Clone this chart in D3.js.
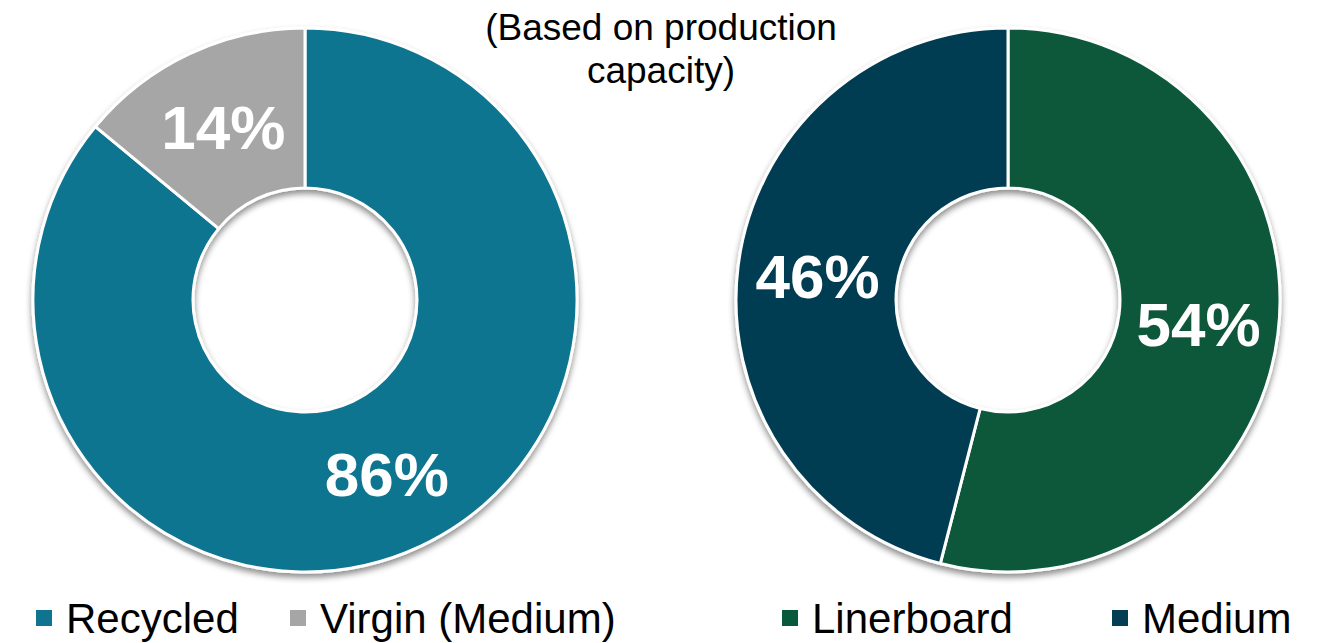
<!DOCTYPE html>
<html>
<head>
<meta charset="utf-8">
<script src="https://cdn.jsdelivr.net/npm/d3@7/dist/d3.min.js"></script>
<style>
  html, body { margin: 0; padding: 0; background: #ffffff; }
  svg { display: block; font-family: "Liberation Sans", Arial, sans-serif; }
</style>
</head>
<body>
<svg id="chart" width="1327" height="643"></svg>
<script>
// Paper grade mix by fibre source and by grade
const fibreCategories = ["Recycled", "Virgin (Medium)"];
const fibreShares = [86, 14];
const fibreColors = ["#0f7490", "#a6a6a6"];

const gradeCategories = ["Linerboard", "Medium"];
const gradeShares = [54, 46];
const gradeColors = ["#08593b", "#033e52"];

const titleLines = ["(Based on production", "capacity)"];

const svg = d3.select("#chart");
const defs = svg.append("defs");
const shadow = defs.append("filter")
  .attr("id", "ringShadow")
  .attr("x", "-20%").attr("y", "-20%")
  .attr("width", "140%").attr("height", "140%");
shadow.append("feDropShadow")
  .attr("dx", 0).attr("dy", 4)
  .attr("stdDeviation", 3)
  .attr("flood-color", "#000")
  .attr("flood-opacity", 0.45);

const outerR = 272, innerR = 112;
const pie = d3.pie().sort(null).value(d => d.value);
const arc = d3.arc().innerRadius(innerR).outerRadius(outerR);

function donut(cx, cy, cats, vals, colors) {
  const data = cats.map((c, i) => ({ name: c, value: vals[i], color: colors[i] }));
  const g = svg.append("g").attr("transform", `translate(${cx},${cy})`);
  const arcs = pie(data);
  g.append("g")
    .attr("filter", "url(#ringShadow)")
    .selectAll("path")
    .data(arcs)
    .join("path")
      .attr("d", arc)
      .attr("fill", d => d.data.color)
      .attr("stroke", "#ffffff")
      .attr("stroke-width", 3)
      .attr("stroke-linejoin", "round");
  g.selectAll("text.pct")
    .data(arcs)
    .join("text")
      .attr("class", "pct")
      .attr("transform", d => `translate(${arc.centroid(d)})`)
      .attr("text-anchor", "middle")
      .attr("dy", "0.36em")
      .attr("fill", "#ffffff")
      .attr("font-weight", "bold")
      .attr("font-size", 62)
      .text(d => d.data.value + "%");
}

donut(305, 300, fibreCategories, fibreShares, fibreColors);
donut(1008, 300, gradeCategories, gradeShares, gradeColors);

// Subtitle between the two rings
svg.append("g")
  .selectAll("text")
  .data(titleLines)
  .join("text")
    .attr("x", 661)
    .attr("y", (d, i) => 40 + i * 43)
    .attr("text-anchor", "middle")
    .attr("font-size", 37)
    .attr("fill", "#000000")
    .text(d => d);

// Legends
function legend(items, colors, xs) {
  const g = svg.append("g");
  items.forEach((name, i) => {
    g.append("rect")
      .attr("x", xs[i]).attr("y", 610)
      .attr("width", 16).attr("height", 16)
      .attr("fill", colors[i]);
    g.append("text")
      .attr("x", xs[i] + 30).attr("y", 633)
      .attr("font-size", 42)
      .attr("fill", "#000000")
      .text(name);
  });
}
legend(fibreCategories, fibreColors, [36, 290]);
legend(gradeCategories, gradeColors, [782, 1112]);
</script>
</body>
</html>
